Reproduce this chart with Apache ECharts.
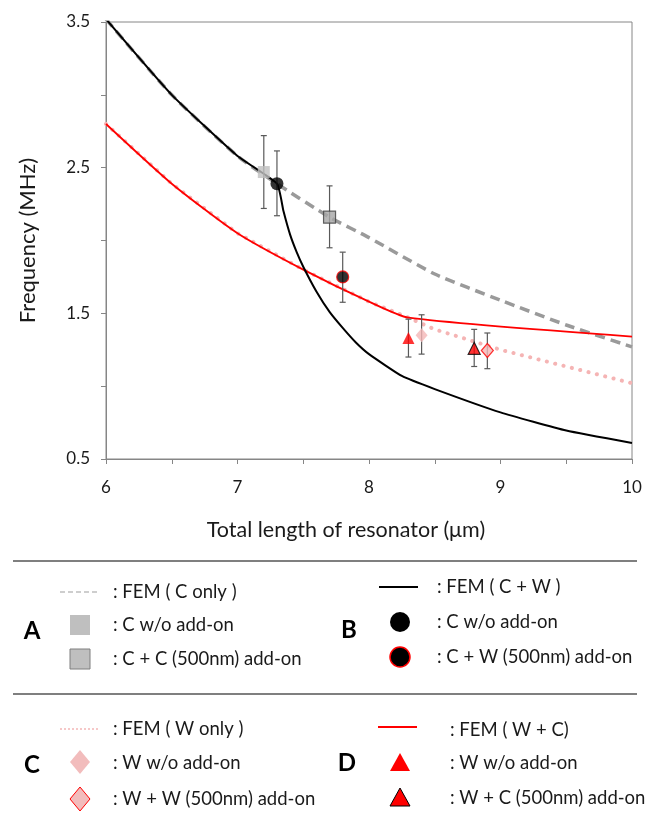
<!DOCTYPE html>
<html>
<head>
<meta charset="utf-8">
<script src="https://cdn.jsdelivr.net/npm/echarts@6/dist/echarts.min.js"></script>
<style>
  html, body { margin: 0; padding: 0; background: #fff; }
  #chart { width: 650px; height: 822px; }
</style>
</head>
<body>
<div id="chart"></div>
<script>
// FEM curves (x = total length in um, y = frequency in MHz)
const femCOnlyX = [6, 6.5, 7, 7.3, 7.7, 8, 8.5, 9, 9.5, 10]
const femCOnlyY = [3.52, 3.0, 2.58, 2.39, 2.16, 2.02, 1.77, 1.59, 1.42, 1.27]
const femCWX = [6, 6.5, 7, 7.3, 7.35, 7.4, 7.45, 7.5, 7.6, 7.7, 7.8, 7.9, 8.0, 8.25, 8.5, 9, 9.5, 10]
const femCWY = [3.52, 3.0, 2.58, 2.39, 2.20, 2.04, 1.92, 1.82, 1.65, 1.51, 1.40, 1.30, 1.22, 1.07, 0.98, 0.82, 0.695, 0.61]
const femWCX = [6, 6.5, 7, 7.5, 8, 8.3, 10]
const femWCY = [2.8, 2.39, 2.05, 1.80, 1.58, 1.47, 1.34]
const femWOnlyX = [6, 6.5, 7, 7.5, 8, 8.3, 8.5, 9, 9.5, 10]
const femWOnlyY = [2.8, 2.39, 2.05, 1.80, 1.58, 1.47, 1.39, 1.25, 1.135, 1.02]

// measurements: [x, value, low, high]
const cWo = [[7.2, 2.47, 2.22, 2.72]]
const cPlusC = [[7.7, 2.16, 1.95, 2.375]]
const cWoB = [[7.3, 2.39, 2.17, 2.615]]
const cPlusW = [[7.8, 1.75, 1.576, 1.92]]
const wWo = [[8.4, 1.35, 1.22, 1.49]]
const wPlusW = [[8.9, 1.245, 1.12, 1.365]]
const wWoD = [[8.3, 1.33, 1.20, 1.46]]
const wPlusC = [[8.8, 1.26, 1.135, 1.39]]

const yTickLabels = [0.5, 1.5, 2.5, 3.5]
const xTickLabels = [6, 7, 8, 9, 10]

const FONT = "Lato, 'Open Sans', sans-serif"
const zip = (xs, ys) => xs.map((x, i) => [x, ys[i]])

const allPoints = [cWo, cPlusC, cWoB, cPlusW, wWo, wPlusW, wWoD, wPlusC]
const errData = allPoints.map(p => [p[0][0], p[0][2], p[0][3]])

const markSeries = (data, symbol, size, fill, border, bw) => ({
  type: "scatter",
  data: data.map(d => [d[0], d[1]]),
  symbol: symbol,
  symbolSize: size,
  z: 5,
  itemStyle: { color: fill, borderColor: border || fill, borderWidth: bw || 0 }
})

const chartBox = echarts.init(document.getElementById("chart"))

const diamond = (cx, cy, w, h) => [[cx, cy - h / 2], [cx + w / 2, cy], [cx, cy + h / 2], [cx - w / 2, cy]]
const triangle = (cx, cy, w, h) => [[cx, cy - h / 2], [cx + w / 2, cy + h / 2], [cx - w / 2, cy + h / 2]]
const txt = (x, y, s, extra) => ({
  type: "text", x: x, y: y,
  style: Object.assign({ text: s, font: "18.5px " + FONT, fill: "#1a1a1a", verticalAlign: "middle" }, extra || {})
})
const letter = (x, y, s) => txt(x, y, s, { font: "bold 24px " + FONT, align: "center", fill: "#000" })

const legendGraphics = [
  { type: "line", shape: { x1: 13, y1: 561, x2: 637, y2: 561 }, style: { stroke: "#555", lineWidth: 1.5 } },
  { type: "line", shape: { x1: 13, y1: 694, x2: 637, y2: 694 }, style: { stroke: "#555", lineWidth: 1.5 } },
  // A
  letter(32, 631, "A"),
  { type: "line", shape: { x1: 60, y1: 592, x2: 98, y2: 592 }, style: { stroke: "#bfbfbf", lineWidth: 1.5, lineDash: [5, 3] } },
  txt(113, 592, ": FEM ( C only )"),
  { type: "rect", shape: { x: 70, y: 615, width: 20, height: 20 }, style: { fill: "#bfbfbf" } },
  txt(113, 625, ": C w/o add-on"),
  { type: "rect", shape: { x: 70, y: 649, width: 20, height: 20 }, style: { fill: "#bfbfbf", stroke: "#7f7f7f", lineWidth: 1 } },
  txt(113, 659, ": C + C (500nm) add-on"),
  // B
  letter(349, 630, "B"),
  { type: "line", shape: { x1: 379, y1: 587, x2: 418, y2: 587 }, style: { stroke: "#000", lineWidth: 2 } },
  txt(437, 587, ": FEM ( C + W )"),
  { type: "circle", shape: { cx: 400, cy: 622, r: 10 }, style: { fill: "#000" } },
  txt(437, 622, ": C w/o add-on"),
  { type: "circle", shape: { cx: 400, cy: 657, r: 10 }, style: { fill: "#000", stroke: "#ff0000", lineWidth: 1.5 } },
  txt(437, 657, ": C + W (500nm) add-on"),
  // C
  letter(32, 765, "C"),
  { type: "line", shape: { x1: 60, y1: 729, x2: 98, y2: 729 }, style: { stroke: "#f4b6b6", lineWidth: 1.5, lineDash: [2, 2] } },
  txt(113, 729, ": FEM ( W only )"),
  { type: "polygon", shape: { points: diamond(80, 762, 20, 24) }, style: { fill: "#f2bcbc" } },
  txt(113, 763, ": W w/o add-on"),
  { type: "polygon", shape: { points: diamond(80, 799, 20, 24) }, style: { fill: "#f2bcbc", stroke: "#ff0000", lineWidth: 1 } },
  txt(113, 799, ": W + W (500nm) add-on"),
  // D
  letter(347, 763, "D"),
  { type: "line", shape: { x1: 378, y1: 727, x2: 417, y2: 727 }, style: { stroke: "#ff0000", lineWidth: 2 } },
  txt(450, 730, ": FEM ( W + C)"),
  { type: "polygon", shape: { points: triangle(400, 762, 20, 18) }, style: { fill: "#ff0000" } },
  txt(450, 763, ": W w/o add-on"),
  { type: "polygon", shape: { points: triangle(400, 797, 20, 18) }, style: { fill: "#ff0000", stroke: "#000", lineWidth: 1 } },
  txt(450, 798, ": W + C (500nm) add-on")
]

const options = {
  animation: false,
  textStyle: { fontFamily: FONT },
  grid: {
    left: 106, right: 18, top: 22, bottom: 363,
    show: true, borderColor: "#868686", borderWidth: 1
  },
  xAxis: {
    type: "value", min: 6, max: 10, interval: 0.5,
    name: "Total length of resonator (μm)",
    nameLocation: "middle", nameGap: 60,
    // title sits a bit left of the plot centre in the original
    nameTextStyle: { fontSize: 21.5, color: "#1a1a1a", fontFamily: FONT, padding: [0, 46, 0, 0] },
    axisLine: { lineStyle: { color: "#868686" } },
    axisTick: { length: 5, lineStyle: { color: "#868686" } },
    splitLine: { show: false },
    axisLabel: {
      margin: 20, fontSize: 17, color: "#1a1a1a",
      formatter: v => (xTickLabels.includes(v) ? String(v) : "")
    }
  },
  yAxis: {
    type: "value", min: 0.5, max: 3.5, interval: 0.5,
    name: "Frequency (MHz)",
    nameLocation: "middle", nameGap: 67,
    nameTextStyle: { fontSize: 22, color: "#1a1a1a", fontFamily: FONT },
    axisLine: { show: true, lineStyle: { color: "#868686" } },
    axisTick: { show: true, length: 5, lineStyle: { color: "#868686" } },
    splitLine: { show: false },
    axisLabel: {
      margin: 16, fontSize: 17, color: "#1a1a1a",
      formatter: v => (yTickLabels.some(t => Math.abs(t - v) < 1e-6) ? v.toFixed(1) : "")
    }
  },
  series: [
    {
      name: "FEM ( W only )", type: "line", data: zip(femWOnlyX, femWOnlyY),
      showSymbol: false, z: 2,
      lineStyle: { color: "#f5b4b4", width: 4, type: [0.1, 8.5], cap: "round" }
    },
    {
      name: "FEM ( W + C)", type: "line", data: zip(femWCX, femWCY),
      showSymbol: false, z: 3, smooth: 0.2,
      lineStyle: { color: "#ff0000", width: 1.8 }
    },
    {
      name: "FEM ( C only )", type: "line", data: zip(femCOnlyX, femCOnlyY),
      showSymbol: false, z: 2, smooth: 0.2,
      lineStyle: { color: "#9a9a9a", width: 3.5, type: [10, 6] }
    },
    {
      name: "FEM ( C + W )", type: "line", data: zip(femCWX, femCWY),
      showSymbol: false, z: 3, smooth: 0.15,
      lineStyle: { color: "#000", width: 2 }
    },
    {
      type: "custom", z: 4,
      data: errData,
      encode: { x: 0, y: [1, 2] },
      renderItem: (params, api) => {
        const x = api.value(0)
        const lo = api.coord([x, api.value(1)])
        const hi = api.coord([x, api.value(2)])
        const w = 3
        const st = { stroke: "#595959", lineWidth: 1.2 }
        return {
          type: "group",
          children: [
            { type: "line", shape: { x1: lo[0], y1: lo[1], x2: hi[0], y2: hi[1] }, style: st },
            { type: "line", shape: { x1: lo[0] - w, y1: lo[1], x2: lo[0] + w, y2: lo[1] }, style: st },
            { type: "line", shape: { x1: hi[0] - w, y1: hi[1], x2: hi[0] + w, y2: hi[1] }, style: st }
          ]
        }
      }
    },
    markSeries(cWo, "rect", 12, "#bfbfbf"),
    markSeries(cPlusC, "rect", 12, "#a6a6a6", "#404040", 1.2),
    markSeries(cWoB, "circle", 13, "#000"),
    markSeries(cPlusW, "circle", 12, "#000", "#ff0000", 1.2),
    markSeries(wWo, "diamond", [12, 14], "#f4b6b6"),
    markSeries(wPlusW, "diamond", [12, 14], "#f4b6b6", "#ff0000", 1.2),
    markSeries(wWoD, "triangle", [12, 12], "#ff0000"),
    markSeries(wPlusC, "triangle", [12, 12], "#ff0000", "#000", 1.2)
  ],
  graphic: legendGraphics
}

chartBox.setOption(options)
</script>
</body>
</html>
